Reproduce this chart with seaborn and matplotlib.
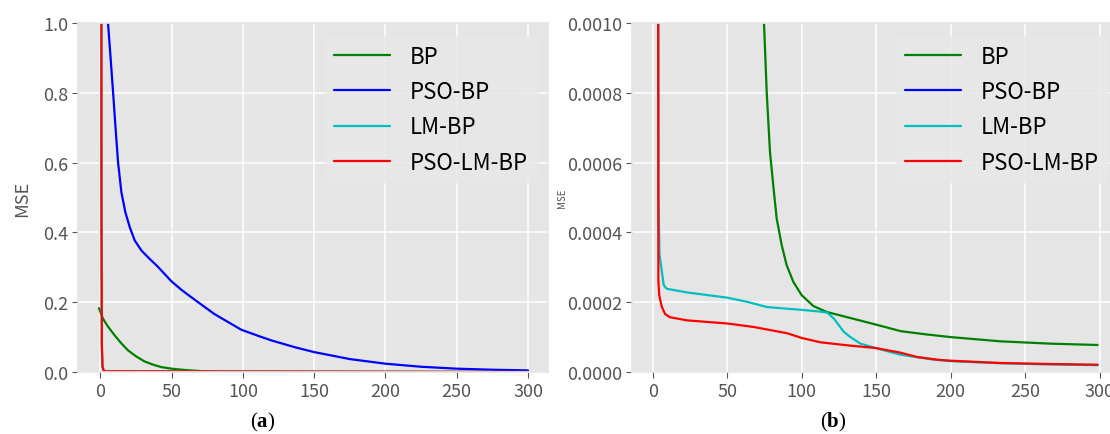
import numpy as np
import pandas as pd
import matplotlib
matplotlib.use("Agg")
import matplotlib.pyplot as plt
import matplotlib.ticker as mticker
import seaborn as sns

# ---- values ----
a_bp_x = [-1, 1.8, 5, 10, 14.5, 19.4, 25, 31.1, 37, 42.8, 50, 56.8, 65, 73, 85, 100, 150, 200, 250, 300]
a_bp_y = [0.183, 0.153, 0.132, 0.105, 0.083, 0.062, 0.045, 0.030, 0.021, 0.014, 0.0095, 0.0066, 0.004,
          0.002, 0.0006, 0.00022, 0.00014, 0.0001, 0.00009, 0.00008]

a_pso_x = [3.5, 5.35, 7.2, 8.9, 10.5, 12.4, 14.7, 17.5, 20.6, 24.1, 28.8, 34.6, 40, 49.8, 57, 66.2, 80,
           98.9, 111.8, 120, 136.4, 150, 175, 200, 225, 250, 275, 300]
a_pso_y = [1.4, 1.0, 0.898, 0.802, 0.707, 0.601, 0.516, 0.458, 0.415, 0.377, 0.348, 0.324, 0.303, 0.26,
           0.235, 0.207, 0.166, 0.121, 0.102, 0.0905, 0.071, 0.057, 0.037, 0.0238, 0.015, 0.0095, 0.0065,
           0.0046]

a_lm_x = [0.7, 0.75, 1.0, 1.5, 2.5, 300]
a_lm_y = [1.5, 0.5, 0.08, 0.015, 0.002, 0.00002]

a_psolm_x = [0.7, 0.75, 1.0, 1.5, 2.5, 300]
a_psolm_y = [1.5, 0.5, 0.08, 0.015, 0.002, 0.00002]

# ---- values ----
b_bp_x = [70, 74.7, 76.5, 78.7, 80.9, 83.2, 86.6, 89.9, 94.4, 100, 107.8, 116.8, 132.4, 149.7, 166.5,
          183, 200, 233.6, 267, 298.6]
b_bp_y = [0.0016, 0.000999, 0.000803, 0.000631, 0.000535, 0.00044, 0.000363, 0.000306, 0.000258, 0.00022,
          0.000189, 0.000172, 0.000155, 0.000136, 0.000117, 0.000108, 0.0001, 0.0000878, 0.0000812,
          0.0000774]

b_pso_x = a_pso_x
b_pso_y = a_pso_y

b_lm_x = [3.6, 3.9, 4.5, 7.4, 9, 10, 23, 50, 63.4, 76.8, 100, 112.5, 117.2, 121.6, 128.3, 132.7, 139.4,
          149.5, 166.3, 188.8, 200, 233.4, 267, 298.6]
b_lm_y = [0.0016, 0.0005, 0.000339, 0.000249, 0.00024, 0.000238, 0.000228, 0.000213, 0.000201, 0.000186,
          0.000178, 0.000173, 0.00017, 0.000153, 0.000115, 0.0001, 0.0000812, 0.0000688, 0.0000496,
          0.0000353, 0.000031, 0.000025, 0.0000215, 0.0000195]

b_psolm_x = [3.6, 3.8, 4.4, 6.0, 8.3, 11.6, 23, 50, 67.8, 79, 90.3, 100, 112.7, 132.7, 149.5, 166.3,
             177.5, 191, 199.6, 233.4, 267, 298.6]
b_psolm_y = [0.0016, 0.00026, 0.00022, 0.000188, 0.000166, 0.000157, 0.000148, 0.000139, 0.000129,
             0.00012, 0.000111, 0.0000975, 0.000085, 0.0000755, 0.0000688, 0.0000554, 0.000043,
             0.0000353, 0.0000325, 0.0000258, 0.0000229, 0.0000209]

labels = ["BP", "PSO-BP", "LM-BP", "PSO-LM-BP"]
colors = ["#008000", "#0000FF", "#00BFBF", "#FF0000"]

sns.set_theme(style="darkgrid", rc={
    "axes.facecolor": "#E5E5E5",
    "grid.color": "white",
    "grid.linewidth": 1.1,
    "axes.edgecolor": "#E5E5E5",
    "xtick.bottom": True,
    "ytick.left": True,
    "xtick.color": "#555555",
    "ytick.color": "#555555",
    "xtick.labelcolor": "#555555",
    "ytick.labelcolor": "#555555",
    "xtick.major.size": 4,
    "ytick.major.size": 4,
    "xtick.major.width": 0.8,
    "ytick.major.width": 0.8,
    "xtick.major.pad": 3,
    "ytick.major.pad": 3,
})
plt.rcParams["font.family"] = ["Noto Sans CJK SC", "DejaVu Sans"]
plt.rcParams["mathtext.fontset"] = "custom"
plt.rcParams["mathtext.bf"] = "Liberation Serif:bold"
plt.rcParams["mathtext.rm"] = "Liberation Serif"


def draw_panel(ax, series, ylim, fmt, ylabel_size, ylabel_pad, legend_anchor):
    for (xs, ys), lab, col in zip(series, labels, colors):
        sns.lineplot(x=xs, y=ys, ax=ax, color=col, label=lab, linewidth=1.6,
                     sort=False, estimator=None, errorbar=None)
    ax.set_ylim(*ylim)
    ax.set_xticks([0, 50, 100, 150, 200, 250, 300])
    ax.set_yticks(np.linspace(ylim[0], ylim[1], 6))
    ax.yaxis.set_major_formatter(mticker.FormatStrFormatter(fmt))
    ax.tick_params(labelsize=13)
    ax.set_ylabel("MSE", fontsize=ylabel_size, color="#555555", labelpad=ylabel_pad)
    ax.set_xlabel("")
    leg = ax.legend(loc="upper right", bbox_to_anchor=legend_anchor, borderaxespad=0,
                    fontsize=16, handlelength=2.5, handletextpad=0.9, labelspacing=0.55,
                    borderpad=0.4, frameon=True, facecolor="#E8E8E8", edgecolor="#E8E8E8",
                    framealpha=0.85)
    for t in leg.get_texts():
        t.set_color("black")


fig = plt.figure(figsize=(11.1, 4.35), dpi=100)
ax1 = fig.add_axes([78 / 1110, 62 / 435, 470 / 1110, 349 / 435])
ax2 = fig.add_axes([632 / 1110, 62 / 435, 489 / 1110, 349 / 435])

draw_panel(ax1, [(a_bp_x, a_bp_y), (a_pso_x, a_pso_y), (a_lm_x, a_lm_y), (a_psolm_x, a_psolm_y)],
           (0, 1.0), "%.1f", 13, 8.5, ((537 - 78) / 470, (373 - 37) / 349))
ax1.set_xlim(-15.7, 314)

draw_panel(ax2, [(b_bp_x, b_bp_y), (b_pso_x, b_pso_y), (b_lm_x, b_lm_y), (b_psolm_x, b_psolm_y)],
           (0, 0.001), "%.4f", 7, 0, ((1108 - 632) / 489, (373 - 37) / 349))
ax2.set_xlim(-13.9, 314.3)

fig.text(263 / 1110, 1 - 422 / 435, r"($\mathbf{a}$)", ha="center", va="center",
         fontsize=15, family="Liberation Serif", color="black")
fig.text(833 / 1110, 1 - 422 / 435, r"($\mathbf{b}$)", ha="center", va="center",
         fontsize=15, family="Liberation Serif", color="black")

fig.savefig("out.png", dpi=100)
